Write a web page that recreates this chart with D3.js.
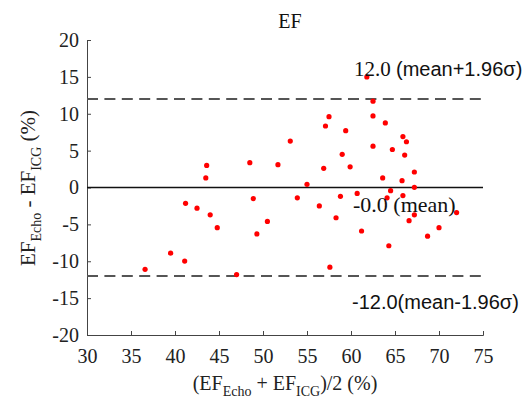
<!DOCTYPE html>
<html>
<head>
<meta charset="utf-8">
<script src="https://cdn.jsdelivr.net/npm/d3@7"></script>
<style>
  body { margin: 0; background: #fff; }
  svg { display: block; }
</style>
</head>
<body>
<svg id="chart" width="526" height="405"></svg>
<script>
// Data: (EF_Echo + EF_ICG)/2 and EF_Echo - EF_ICG
const meanVals = [57.5, 57.1, 59.4, 53.1, 59.0, 61.8, 62.5, 62.5, 63.9, 65.9, 66.3, 62.5, 64.7, 66.1,
  43.6, 43.5, 41.2, 42.5, 44.0, 44.8, 39.5, 41.1, 36.6, 48.5, 51.7, 56.9, 59.9, 55.0, 48.9, 53.9,
  56.4, 58.8, 60.7, 58.3, 50.5, 49.3, 57.6, 47.0, 63.6, 67.2, 65.8, 64.5, 67.2, 64.1, 65.9, 72.0,
  67.2, 66.6, 61.2, 70.0, 68.7, 64.3];
const diffVals = [9.6, 8.34, 7.7, 6.3, 4.5, 15.0, 11.7, 9.7, 8.75, 6.9, 6.2, 5.6, 5.15, 4.4,
  3.0, 1.3, -2.15, -2.8, -3.7, -5.45, -8.9, -9.97, -11.1, 3.36, 3.1, 2.6, 2.8, 0.43, -1.5, -1.4,
  -2.5, -1.2, -0.8, -4.1, -4.6, -6.3, -10.8, -11.8, 1.3, 2.1, 0.92, -0.43, 0.03, -1.4, -1.1, -3.4,
  -3.7, -4.5, -5.9, -5.45, -6.6, -7.9];
const xTicks = [30, 35, 40, 45, 50, 55, 60, 65, 70, 75];
const yTicks = [-20, -15, -10, -5, 0, 5, 10, 15, 20];
const meanLine = 0.0;
const upperLoA = 12.0;
const lowerLoA = -12.0;

const svg = d3.select("#chart");
const L = 87, R = 483, T = 40, B = 335;
const x = d3.scaleLinear().domain([30, 75]).range([L, R]);
const y = d3.scaleLinear().domain([-20, 20]).range([B, T]);

const serif = "'Liberation Serif', 'Times New Roman', serif";
const sans = "'Liberation Sans', Arial, sans-serif";

// Axes
const xAxis = d3.axisBottom(x).tickValues(xTicks).tickSize(-4).tickPadding(10).tickFormat(d => String(d));
const yAxis = d3.axisLeft(y).tickValues(yTicks).tickSize(-4).tickPadding(7).tickFormat(d => String(d));

const gx = svg.append("g").attr("transform", `translate(0,${B})`).call(xAxis);
const gy = svg.append("g").attr("transform", `translate(${L},0)`).call(yAxis);
[gx, gy].forEach(g => {
  g.select(".domain").attr("stroke", "#444").attr("stroke-width", 1);
  g.selectAll(".tick line").attr("stroke", "#444");
  g.selectAll(".tick text").attr("font-family", serif).attr("font-size", 20).attr("fill", "#222");
});
gx.selectAll(".tick text").attr("dy", "0.9em");
gy.selectAll(".tick text").attr("dx", "-1");

// Reference lines
svg.append("line").attr("x1", x(30)).attr("x2", x(75)).attr("y1", y(meanLine)).attr("y2", y(meanLine))
  .attr("stroke", "#111").attr("stroke-width", 1.5);
[upperLoA, lowerLoA].forEach(v => {
  svg.append("line").attr("x1", x(30)).attr("x2", x(75)).attr("y1", y(v)).attr("y2", y(v))
    .attr("stroke", "#555").attr("stroke-width", 2).attr("stroke-dasharray", "11,6.4");
});

// Points
svg.append("g").selectAll("circle").data(meanVals.map((m, i) => [m, diffVals[i]])).join("circle")
  .attr("cx", d => x(d[0])).attr("cy", d => y(d[1])).attr("r", 2.6).attr("fill", "#ff0000");

// Annotations
const up = svg.append("text").attr("x", 354).attr("y", 76).attr("font-size", 21).attr("fill", "#111");
up.append("tspan").attr("font-family", serif).text(upperLoA.toFixed(1) + " ");
up.append("tspan").attr("font-family", sans).attr("font-size", 20).text("(mean+1.96σ)");

svg.append("text").attr("x", 353).attr("y", 212).attr("font-family", serif).attr("font-size", 22)
  .attr("fill", "#111").text("-" + Math.abs(meanLine).toFixed(1) + " (mean)");

svg.append("text").attr("x", 352).attr("y", 309).attr("font-family", sans).attr("font-size", 20)
  .attr("fill", "#111").text(lowerLoA.toFixed(1) + "(mean-1.96σ)");

// Title
svg.append("text").attr("x", 290).attr("y", 28).attr("text-anchor", "middle")
  .attr("font-family", serif).attr("font-size", 20).attr("fill", "#111").text("EF");

// X label
const xl = svg.append("text").attr("x", 285).attr("y", 390).attr("text-anchor", "middle")
  .attr("font-family", serif).attr("font-size", 20).attr("fill", "#222");
xl.append("tspan").text("(EF");
xl.append("tspan").attr("font-size", 14).attr("dy", 6).text("Echo");
xl.append("tspan").attr("dy", -6).text(" + EF");
xl.append("tspan").attr("font-size", 14).attr("dy", 6).text("ICG");
xl.append("tspan").attr("dy", -6).text(")/2 (%)");

// Y label
const yl = svg.append("text").attr("transform", `translate(35,188) rotate(-90)`).attr("text-anchor", "middle")
  .attr("font-family", serif).attr("font-size", 21).attr("fill", "#222");
yl.append("tspan").text("EF");
yl.append("tspan").attr("font-size", 14).attr("dy", 6).text("Echo");
yl.append("tspan").attr("dy", -6).text(" - EF");
yl.append("tspan").attr("font-size", 14).attr("dy", 6).text("ICG");
yl.append("tspan").attr("dy", -6).text(" (%)");
</script>
</body>
</html>
